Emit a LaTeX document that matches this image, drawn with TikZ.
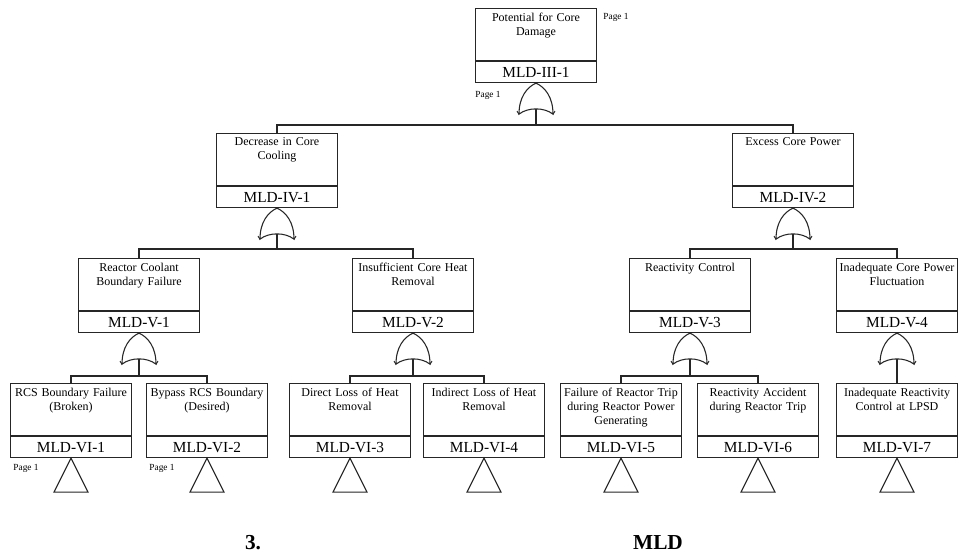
\documentclass[tikz,border=0pt]{standalone}
\usepackage{fontspec}
\setmainfont{Liberation Serif}
\newcommand\mldbox[5]{%
  \node[ubox] (#1) at (#2,#3) {};
  \node[txt] (#1t) at ([yshift=-3.4pt]#1.north) {#4};
  \node[idbox] (#1id) at (#1.south) {#5};
}
\begin{document}
\begin{tikzpicture}[x=0.75pt,y=-0.75pt,
  ln/.style={line width=0.8pt, draw=black!85},
  ubox/.style={ln, anchor=north, minimum width=90.75pt, minimum height=39pt, inner sep=0},
  idbox/.style={ln, anchor=north, minimum width=90.75pt, minimum height=15.75pt, inner sep=0, font=\fontsize{11.5}{12}\selectfont},
  txt/.style={anchor=north, align=center, inner sep=0, text width=90pt, font=\fontsize{9}{10.5}\selectfont},
  pg/.style={inner sep=0, font=\fontsize{7}{8}\selectfont},
  captxt/.style={inner sep=0, font=\fontsize{16}{18}\selectfont\bfseries},
  orgate/.pic={
    \draw[ln] (-17,31) .. controls (-17,14) and (-9,4) .. (0,0)
      .. controls (9,4) and (17,14) .. (17,31)
      .. controls (8,24) and (-8,24) .. cycle;
    \draw[ln] (-17,31) -- (-19,28) (17,31) -- (19,28);
    \coordinate (-out) at (0,26);
  },
  xfer/.pic={
    \draw[ln] (0,0) -- (17,34) -- (-17,34) -- cycle;
    \coordinate (-top) at (0,0);
  }
]
\fill[white] (0,0) rectangle (960,556);
\useasboundingbox (0,0) rectangle (960,556);

% boxes
\mldbox{t}{536}{8}{Potential for Core\\Damage}{MLD-III-1}
\mldbox{a}{277}{133}{Decrease in Core\\Cooling}{MLD-IV-1}
\mldbox{b}{793}{133}{Excess Core Power}{MLD-IV-2}
\mldbox{aa}{139}{258}{Reactor Coolant\\Boundary Failure}{MLD-V-1}
\mldbox{ab}{413}{258}{Insufficient Core Heat\\Removal}{MLD-V-2}
\mldbox{ba}{690}{258}{Reactivity Control}{MLD-V-3}
\mldbox{bb}{897}{258}{Inadequate Core Power\\Fluctuation}{MLD-V-4}
\mldbox{e1}{71}{383}{RCS Boundary Failure\\(Broken)}{MLD-VI-1}
\mldbox{e2}{207}{383}{Bypass RCS Boundary\\(Desired)}{MLD-VI-2}
\mldbox{e3}{350}{383}{Direct Loss of Heat\\Removal}{MLD-VI-3}
\mldbox{e4}{484}{383}{Indirect Loss of Heat\\Removal}{MLD-VI-4}
\mldbox{e5}{621}{383}{Failure of Reactor Trip\\during Reactor Power\\Generating}{MLD-VI-5}
\mldbox{e6}{758}{383}{Reactivity Accident\\during Reactor Trip}{MLD-VI-6}
\mldbox{e7}{897}{383}{Inadequate Reactivity\\Control at LPSD}{MLD-VI-7}

% gates
\pic (gt) at (tid.south) {orgate};
\pic (ga) at (aid.south) {orgate};
\pic (gb) at (bid.south) {orgate};
\pic (gaa) at (aaid.south) {orgate};
\pic (gab) at (abid.south) {orgate};
\pic (gba) at (baid.south) {orgate};
\pic (gbb) at (bbid.south) {orgate};

% transfer triangles
\pic (x1) at (e1id.south) {xfer};
\pic (x2) at (e2id.south) {xfer};
\pic (x3) at (e3id.south) {xfer};
\pic (x4) at (e4id.south) {xfer};
\pic (x5) at (e5id.south) {xfer};
\pic (x6) at (e6id.south) {xfer};
\pic (x7) at (e7id.south) {xfer};

% connectors
\coordinate (jt) at (536,125);
\draw[ln] (gt-out) -- (jt);
\draw[ln] (a.north) |- (jt) -| (b.north);

\coordinate (ja) at (277,249);
\draw[ln] (ga-out) -- (ja);
\draw[ln] (aa.north) |- (ja) -| (ab.north);

\coordinate (jb) at (793,249);
\draw[ln] (gb-out) -- (jb);
\draw[ln] (ba.north) |- (jb) -| (bb.north);

\coordinate (jaa) at (139,376);
\draw[ln] (gaa-out) -- (jaa);
\draw[ln] (e1.north) |- (jaa) -| (e2.north);

\coordinate (jab) at (413,376);
\draw[ln] (gab-out) -- (jab);
\draw[ln] (e3.north) |- (jab) -| (e4.north);

\coordinate (jba) at (690,376);
\draw[ln] (gba-out) -- (jba);
\draw[ln] (e5.north) |- (jba) -| (e6.north);

\draw[ln] (gbb-out) -- (e7.north);

% page labels
\node[pg] (p1) at (616,17) {Page 1};
\node[pg] (p2) at (488,95) {Page 1};
\node[pg] (p3) at (26,468) {Page 1};
\node[pg] (p4) at (162,468) {Page 1};

% caption
\node[captxt] (c1) at (253,543) {3.};
\node[captxt] (c2) at (658,543) {MLD};
\end{tikzpicture}
\end{document}
